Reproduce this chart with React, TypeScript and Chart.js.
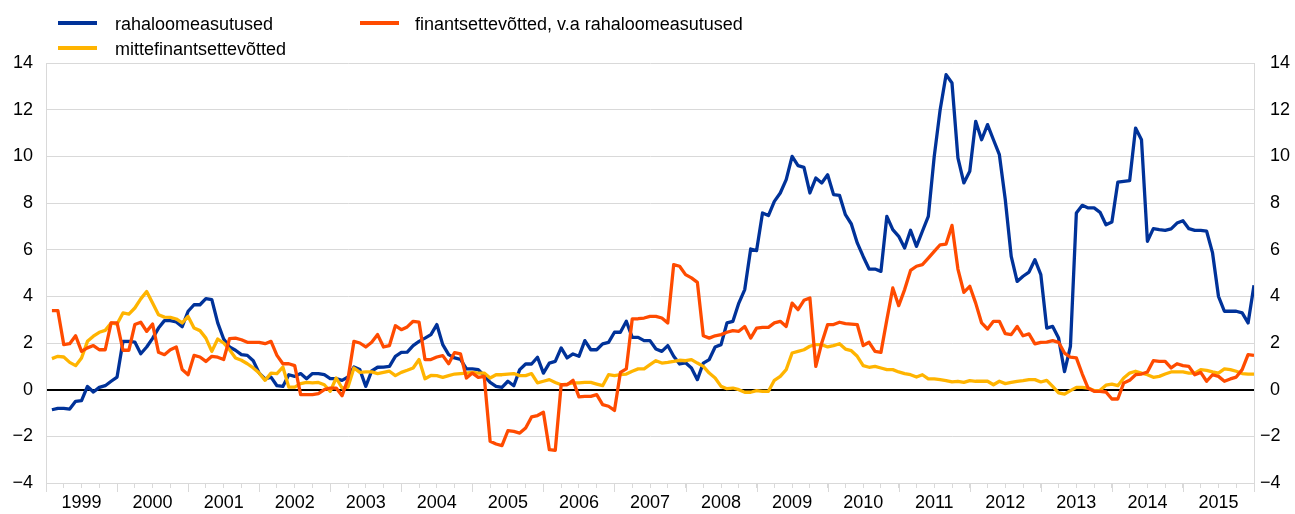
import { useEffect, useRef } from 'react';
import { Chart, registerables } from 'chart.js';

Chart.register(...registerables);

// Year tick labels (monthly data, Jan 1999 – Dec 2015)
const yearLabels = ['1999', '2000', '2001', '2002', '2003', '2004', '2005', '2006', '2007', '2008', '2009', '2010', '2011', '2012', '2013', '2014', '2015'];

const seriesNames = ['rahaloomeasutused', 'finantsettevõtted, v.a rahaloomeasutused', 'mittefinantsettevõtted'];

// rahaloomeasutused
const rahaloomeasutused = [
  -0.86, -0.8, -0.8, -0.83, -0.5, -0.47, 0.14, -0.1, 0.1, 0.17, 0.36, 0.54,
  2.07, 2.07, 2.04, 1.54, 1.83, 2.2, 2.64, 2.96, 2.96, 2.9, 2.7, 3.36,
  3.64, 3.64, 3.9, 3.86, 2.86, 2.17, 1.83, 1.69, 1.5, 1.47, 1.24, 0.71,
  0.46, 0.54, 0.17, 0.14, 0.64, 0.57, 0.69, 0.47, 0.69, 0.69, 0.64, 0.47,
  0.47, 0.4, 0.54, 0.97, 0.86, 0.14, 0.8, 0.96, 0.97, 1.0, 1.43, 1.6,
  1.61, 1.89, 2.07, 2.21, 2.36, 2.79, 1.93, 1.5, 1.36, 1.3, 0.89, 0.89,
  0.86, 0.6, 0.31, 0.14, 0.1, 0.36, 0.17, 0.86, 1.1, 1.1, 1.39, 0.71,
  1.14, 1.21, 1.79, 1.36, 1.53, 1.43, 2.1, 1.71, 1.71, 1.96, 2.03, 2.46,
  2.46, 2.93, 2.24, 2.24, 2.1, 2.1, 1.74, 1.64, 1.89, 1.43, 1.1, 1.15,
  0.93, 0.43, 1.14, 1.29, 1.83, 1.93, 2.86, 2.93, 3.71, 4.29, 6.03, 5.96,
  7.57, 7.46, 8.07, 8.43, 9.0, 10.0, 9.6, 9.53, 8.43, 9.07, 8.86, 9.21,
  8.36, 8.33, 7.5, 7.1, 6.29, 5.71, 5.17, 5.17, 5.07, 7.43, 6.86, 6.57,
  6.07, 6.83, 6.14, 6.79, 7.43, 10.0, 12.0, 13.5, 13.14, 9.93, 8.86, 9.36,
  11.5, 10.71, 11.36, 10.71, 10.07, 8.14, 5.71, 4.64, 4.86, 5.04, 5.57, 4.93,
  2.64, 2.71, 2.21, 0.77, 1.86, 7.57, 7.9, 7.79, 7.79, 7.6, 7.07, 7.19,
  8.89, 8.93, 8.96, 11.21, 10.71, 6.36, 6.9, 6.86, 6.83, 6.89, 7.14, 7.24,
  6.9, 6.83, 6.83, 6.79, 5.86, 4.0, 3.36, 3.36, 3.36, 3.29, 2.86, 4.47,
];

// mittefinantsettevõtted
const mittefinantsettevotted = [
  1.33, 1.43, 1.4, 1.17, 1.03, 1.36, 2.07, 2.29, 2.46, 2.54, 2.86, 2.81,
  3.29, 3.24, 3.5, 3.89, 4.21, 3.71, 3.21, 3.11, 3.1, 3.03, 2.86, 3.14,
  2.64, 2.53, 2.21, 1.64, 2.17, 2.0, 1.71, 1.36, 1.26, 1.11, 0.93, 0.71,
  0.4, 0.71, 0.69, 0.97, 0.11, 0.11, 0.26, 0.31, 0.29, 0.31, 0.21, -0.07,
  0.5, 0.07, 0.11, 0.93, 0.74, 0.76, 0.76, 0.69, 0.74, 0.79, 0.6, 0.74,
  0.83, 0.93, 1.29, 0.47, 0.61, 0.6, 0.53, 0.6, 0.67, 0.69, 0.71, 0.74,
  0.71, 0.71, 0.5, 0.64, 0.64, 0.67, 0.69, 0.6, 0.6, 0.69, 0.29, 0.36,
  0.43, 0.31, 0.21, 0.24, 0.29, 0.29, 0.31, 0.31, 0.24, 0.17, 0.64, 0.6,
  0.64, 0.67, 0.79, 0.89, 0.89, 1.07, 1.24, 1.14, 1.17, 1.21, 1.26, 1.24,
  1.29, 1.14, 1.0, 0.71, 0.5, 0.14, 0.04, 0.07, 0, -0.11, -0.11, -0.04,
  -0.07, -0.07, 0.4, 0.57, 0.86, 1.57, 1.64, 1.71, 1.86, 1.93, 1.93, 1.83,
  1.89, 1.97, 1.74, 1.67, 1.43, 1.03, 0.96, 1.0, 0.93, 0.86, 0.86, 0.76,
  0.69, 0.64, 0.54, 0.64, 0.46, 0.46, 0.43, 0.39, 0.33, 0.36, 0.31, 0.39,
  0.36, 0.36, 0.36, 0.21, 0.36, 0.26, 0.31, 0.36, 0.39, 0.43, 0.43, 0.33,
  0.4, 0.14, -0.14, -0.19, -0.04, 0.1, 0.1, 0.07, -0.04, -0.03, 0.19, 0.24,
  0.17, 0.5, 0.71, 0.79, 0.71, 0.64, 0.53, 0.57, 0.67, 0.76, 0.76, 0.76,
  0.71, 0.71, 0.86, 0.83, 0.76, 0.71, 0.89, 0.86, 0.79, 0.69, 0.67, 0.67,
];

// finantsettevõtted, v.a rahaloomeasutused
const finantsettevotted = [
  3.39, 3.39, 1.93, 1.97, 2.31, 1.64, 1.79, 1.89, 1.71, 1.71, 2.86, 2.86,
  1.69, 1.69, 2.79, 2.89, 2.5, 2.81, 1.6, 1.5, 1.71, 1.83, 0.86, 0.64,
  1.47, 1.4, 1.21, 1.43, 1.39, 1.29, 2.19, 2.21, 2.14, 2.03, 2.03, 2.03,
  1.97, 2.07, 1.47, 1.11, 1.11, 1.03, -0.21, -0.21, -0.21, -0.17, 0, 0.07,
  0.07, -0.26, 0.47, 2.07, 2.0, 1.83, 2.03, 2.36, 1.83, 1.89, 2.74, 2.57,
  2.69, 2.93, 2.89, 1.29, 1.29, 1.4, 1.46, 1.11, 1.59, 1.53, 0.5, 0.71,
  0.53, 0.57, -2.21, -2.33, -2.4, -1.76, -1.79, -1.86, -1.64, -1.17, -1.11, -0.97,
  -2.57, -2.6, 0.21, 0.21, 0.4, -0.31, -0.29, -0.29, -0.21, -0.64, -0.71, -0.89,
  0.74, 0.89, 3.03, 3.04, 3.07, 3.14, 3.14, 3.07, 2.86, 5.36, 5.29, 4.93,
  4.79, 4.6, 2.31, 2.21, 2.31, 2.36, 2.46, 2.53, 2.5, 2.71, 2.21, 2.64,
  2.67, 2.67, 2.86, 2.93, 2.71, 3.71, 3.43, 3.83, 3.93, 1.0, 2.0, 2.79,
  2.79, 2.89, 2.83, 2.81, 2.79, 1.89, 2.03, 1.64, 1.6, 3.0, 4.36, 3.6,
  4.29, 5.11, 5.29, 5.36, 5.64, 5.93, 6.21, 6.24, 7.04, 5.17, 4.17, 4.43,
  3.71, 2.86, 2.6, 2.93, 2.93, 2.4, 2.36, 2.71, 2.31, 2.39, 1.96, 2.03,
  2.04, 2.1, 2.03, 1.57, 1.39, 1.36, 0.67, 0.06, -0.07, -0.07, -0.1, -0.4,
  -0.4, 0.29, 0.4, 0.64, 0.67, 0.76, 1.24, 1.21, 1.21, 0.93, 1.11, 1.03,
  1.0, 0.64, 0.74, 0.36, 0.64, 0.57, 0.36, 0.46, 0.54, 0.86, 1.5, 1.47,
];

const yTicks = [-4, -2, 0, 2, 4, 6, 8, 10, 12, 14];

const BLUE = '#003299';
const ORANGE = '#ff4b00';
const YELLOW = '#ffb400';
const GRID = '#d9d9d9';
const FONT = '"Liberation Sans", Arial, sans-serif';

const W = 1295;
const H = 514;

const fmt = (v: number) => (v < 0 ? '\u2212' + Math.abs(v) : String(v));

// month-end points: month index i sits at i + 1 on a 0..204 month axis
const toPoints = (arr: number[]) => arr.map((y, i) => ({ x: i + 1, y }));

const yearTickPlugin = {
  id: 'yearTicks',
  afterDraw(chart: any) {
    const s = chart.scales.x;
    const ctx = chart.ctx;
    ctx.save();
    ctx.strokeStyle = GRID;
    ctx.lineWidth = 1;
    for (let k = 0; k <= yearLabels.length; k++) {
      const px = Math.round(s.getPixelForValue(k * 12)) + 0.5;
      ctx.beginPath();
      ctx.moveTo(px, s.top);
      ctx.lineTo(px, s.top + 9);
      ctx.stroke();
    }
    ctx.restore();
  },
};

export default function App() {
  const ref = useRef<HTMLCanvasElement | null>(null);

  useEffect(() => {
    if (!ref.current) return;
    Chart.defaults.font.family = FONT;
    const chart = new Chart(ref.current, {
      type: 'line',
      data: {
        datasets: [
          { label: seriesNames[0], data: toPoints(rahaloomeasutused), borderColor: BLUE, backgroundColor: BLUE, borderWidth: 3.3, pointRadius: 0, order: 3, yAxisID: 'y' },
          { label: seriesNames[2], data: toPoints(mittefinantsettevotted), borderColor: YELLOW, backgroundColor: YELLOW, borderWidth: 3.3, pointRadius: 0, order: 2, yAxisID: 'y' },
          { label: seriesNames[1], data: toPoints(finantsettevotted), borderColor: ORANGE, backgroundColor: ORANGE, borderWidth: 3.3, pointRadius: 0, order: 1, yAxisID: 'y' },
        ],
      },
      options: {
        animation: false,
        responsive: false,
        maintainAspectRatio: false,
        layout: { padding: { top: 63, left: 0, right: 0, bottom: 0 } },
        plugins: { legend: { display: false }, tooltip: { enabled: false } },
        elements: { line: { tension: 0, borderJoinStyle: 'round', borderCapStyle: 'butt' } },
        scales: {
          x: {
            type: 'linear',
            min: 0,
            max: yearLabels.length * 12,
            afterFit: (axis: any) => { axis.height = 31; },
            grid: { drawOnChartArea: false, drawTicks: true, tickLength: 5, color: GRID, tickColor: GRID },
            border: { color: GRID },
            ticks: {
              stepSize: 3,
              autoSkip: false,
              maxTicksLimit: 200,
              maxRotation: 0,
              padding: 4,
              color: '#000',
              font: { size: 18 },
              callback: (value: any) => {
                const v = Number(value);
                if (v % 12 === 6) return yearLabels[(v - 6) / 12] ?? '';
                return '';
              },
            },
          },
          y: {
            position: 'left',
            min: -4,
            max: 14,
            afterFit: (axis: any) => { axis.width = 46; },
            afterBuildTicks: (axis: any) => { axis.ticks = yTicks.map((v) => ({ value: v })); },
            grid: {
              drawTicks: false,
              color: (ctx: any) => (ctx.tick && ctx.tick.value === 0 ? '#000' : GRID),
              lineWidth: (ctx: any) => (ctx.tick && ctx.tick.value === 0 ? 2 : 1),
            },
            border: { color: GRID },
            ticks: { padding: 13, color: '#000', font: { size: 18 }, callback: (v: any) => fmt(Number(v)) },
          },
          y2: {
            position: 'right',
            min: -4,
            max: 14,
            afterFit: (axis: any) => { axis.width = W - 1254; },
            afterBuildTicks: (axis: any) => { axis.ticks = yTicks.map((v) => ({ value: v })); },
            grid: { drawOnChartArea: false, drawTicks: false },
            border: { color: GRID },
            ticks: {
              padding: 6,
              color: '#000',
              font: { size: 18 },
              callback: (v: any) => (Number(v) < 0 ? fmt(Number(v)) : '\u2007' + fmt(Number(v))),
            },
          },
        },
      },
      plugins: [yearTickPlugin],
    } as any);
    return () => chart.destroy();
  }, []);

  const legendText: any = {
    position: 'absolute',
    font: `18px ${FONT}`,
    lineHeight: '20px',
    color: '#000',
    whiteSpace: 'nowrap',
  };
  const sample = (color: string, left: number, top: number): any => ({
    position: 'absolute', left, top, width: 39, height: 4, background: color,
  });

  return (
    <div style={{ position: 'fixed', left: 0, top: 0, width: W, height: H, background: '#fff' }}>
      <canvas ref={ref} width={W} height={H} style={{ position: 'absolute', left: 0, top: 0, width: W, height: H }} />
      <div style={sample(BLUE, 58, 21)} />
      <div style={{ ...legendText, left: 115, top: 14 }}>{seriesNames[0]}</div>
      <div style={sample(ORANGE, 360, 21)} />
      <div style={{ ...legendText, left: 415, top: 14 }}>{seriesNames[1]}</div>
      <div style={sample(YELLOW, 58, 46)} />
      <div style={{ ...legendText, left: 115, top: 39 }}>{seriesNames[2]}</div>
    </div>
  );
}
